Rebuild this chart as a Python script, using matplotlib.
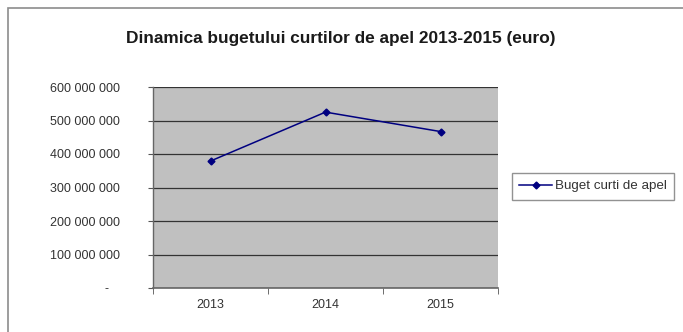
import matplotlib
matplotlib.use("Agg")
import matplotlib.pyplot as plt
from matplotlib.patches import Rectangle
from matplotlib.ticker import FixedLocator, FuncFormatter

years = ["2013", "2014", "2015"]
budget = [379_000_000, 525_000_000, 467_000_000]
yticks = [0, 100_000_000, 200_000_000, 300_000_000, 400_000_000, 500_000_000, 600_000_000]
title = "Dinamica bugetului curtilor de apel 2013-2015 (euro)"
series_name = "Buget curti de apel"

plt.rcParams['font.family'] = ['Liberation Sans', 'DejaVu Sans']

W, H = 683, 332
fig = plt.figure(figsize=(W / 100, H / 100), dpi=100)
fig.patch.set_facecolor("white")

# outer chart-area frame
fig.patches.append(Rectangle((8 / W, -0.05), 1.2, 1 - 8 / H + 0.05, transform=fig.transFigure,
                             facecolor="none", edgecolor="#8c8c8c", linewidth=1.2, zorder=0))

ax = fig.add_axes([153 / W, 1 - 288 / H, (498 - 153) / W, (288 - 87) / H])
ax.set_facecolor("#c0c0c0")

x = list(range(len(years)))
ax.plot(x, budget, color="#000080", marker="D", markersize=3.5, linewidth=1.1,
        label=series_name, zorder=3)

ax.set_xlim(-0.5, len(years) - 0.5)
ax.set_ylim(0, 600_000_000)
ax.set_yticks(yticks)

def fmt(v, pos):
    if v == 0:
        return "-   "
    return f"{int(v):,}".replace(",", " ")

ax.yaxis.set_major_formatter(FuncFormatter(fmt))
ax.set_xticks(x)
ax.set_xticklabels(years)
ax.xaxis.set_minor_locator(FixedLocator([-0.5, 0.5, 1.5, 2.5]))
ax.tick_params(axis="x", which="major", length=0, pad=8, labelsize=9, labelcolor="#333333")
ax.tick_params(axis="x", which="minor", length=4, color="#555555", direction="out")
ax.tick_params(axis="y", length=3.6, color="#555555", pad=20.5, labelsize=9, labelcolor="#333333")

ax.grid(axis="y", color="#333333", linewidth=0.9)
ax.set_axisbelow(True)
for s in ["top", "right"]:
    ax.spines[s].set_visible(False)
ax.spines["left"].set_color("#666666")
ax.spines["bottom"].set_color("#666666")
ax.spines["left"].set_linewidth(1.0)
ax.spines["bottom"].set_linewidth(1.2)

fig.text(341 / W, 1 - 38 / H, title, ha="center", va="center", fontsize=12.4,
         fontweight="bold", color="#1a1a1a")

leg = fig.legend(loc="center left", bbox_to_anchor=(505 / W, 1 - 186 / H), fontsize=9.6,
                 frameon=True, fancybox=False, edgecolor="#777777", handlelength=2.5,
                 borderpad=0.55, handletextpad=0.2)
for t in leg.get_texts():
    t.set_color("#333333")

fig.savefig("out.png", dpi=100, facecolor="white")
